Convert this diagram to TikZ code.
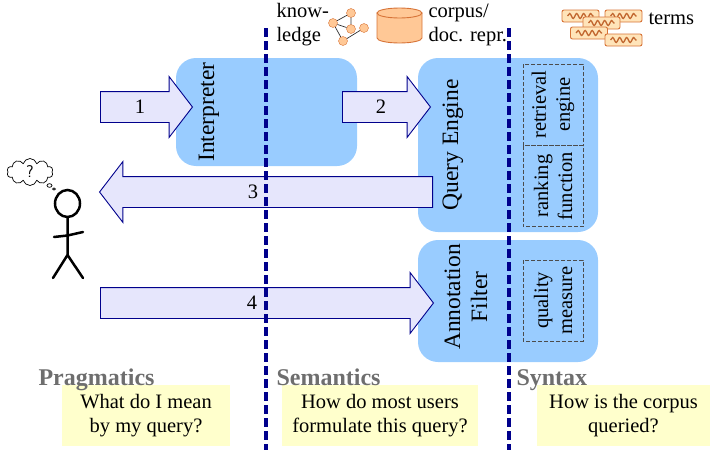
\documentclass[tikz,border=0pt]{standalone}
\usepackage{fontspec}
\setmainfont{Liberation Serif}
\usetikzlibrary{shapes.arrows,shapes.symbols,decorations.pathmorphing}
\usepackage{xcolor}
\definecolor{qnavy}{RGB}{0,0,140}
\definecolor{qblue}{RGB}{153,204,255}
\definecolor{qlav}{RGB}{230,230,252}
\definecolor{qgray}{RGB}{110,110,110}
\definecolor{qyellow}{RGB}{255,255,204}
\definecolor{qorange}{RGB}{215,115,55}
\definecolor{qpeach}{RGB}{255,200,150}
\definecolor{qcream}{RGB}{255,228,185}
\tikzset{
    stage/.style={
        fill=qblue,rounded corners=20pt,inner sep=0pt
    },
    stagelabel/.style={
        rotate=90,align=center,font=\fontsize{23.5}{27}\selectfont
    },
    part/.style={
        draw=black!70,dash pattern=on 4pt off 2pt,line width=.9pt,
        rotate=90,align=center,inner sep=0pt,
        minimum width=81pt,minimum height=60pt
    },
    flow/.style={
        single arrow,draw=qnavy,fill=qlav,line width=.9pt,
        single arrow tip angle=105,single arrow head extend=15pt,
        inner sep=0pt,text height=30pt,text depth=0pt,
        minimum width=60pt,minimum height=#1
    },
    question/.style={
        fill=qyellow,align=center,minimum height=61pt,inner sep=0pt
    },
    level/.style={
        anchor=base west,text=qgray,font=\bfseries\fontsize{24}{26}\selectfont
    },
    border/.style={
        qnavy,line width=3.5pt,dash pattern=on 9pt off 4pt
    },
    dot/.style={
        circle,draw=qorange,fill=qpeach,inner sep=0pt,minimum size=9pt
    },
    termcard/.style={
        draw=qorange,fill=qcream,rounded corners=2pt,line width=.9pt,
        minimum width=37pt,minimum height=12pt,inner sep=0pt
    },
    squiggle/.style={
        qorange!90!black,line width=1.3pt,
        decorate,decoration={snake,amplitude=2.5pt,segment length=7pt}
    }
}

\begin{document}
\begin{tikzpicture}[x=1pt,y=-1pt,font=\fontsize{20.5}{24}\selectfont]
\useasboundingbox (0,0) rectangle (716,450);

\node[question,minimum width=168pt] (qprag) at (146,415.5)
{What do I mean\\by my query?};
\node[question,minimum width=196pt] (qsem) at (380,415.5)
{How do most users\\formulate this query?};
\node[question,minimum width=173pt] (qsyn) at (623.5,415.5)
{How is the corpus\\queried?};

\node[level] (prag) at (35,385) {Pragmatics};
\node[level] (sem) at (273,385) {Semantics};
\node[level] (syn) at (513,385) {Syntax};

\node[stage,minimum width=181pt,minimum height=108pt] (interp) at (266.5,112) {};
\node[stage,minimum width=180pt,minimum height=174pt] (engine) at (508,145) {};
\node[stage,minimum width=180pt,minimum height=122pt] (filter) at (508,301) {};

\node[stagelabel] (interplab) at (209,112) {Interpreter};
\node[stagelabel] (enginelab) at (453,145) {Query Engine};
\node[stagelabel] (filterlab) at (466,297) {Annotation\\Filter};

\node[part] (retr) at (553,104.5) {retrieval\\engine};
\node[part] (rank) at (553,186) {ranking\\function};
\node[part] (qual) at (553,300.5) {quality\\measure};

\node[flow=92pt,anchor=tail] (a1) at (100,107) {};
\node[flow=88pt,anchor=tail] (a2) at (342,107) {};
\node[flow=333pt,anchor=tail,shape border rotate=180] (a3) at (433,192) {};
\node[flow=333pt,anchor=tail] (a4) at (100,303) {};

\node (n1) at (140,107) {1};
\node (n2) at (381,107) {2};
\node (n3) at (253,192) {3};
\node (n4) at (252,303) {4};

\draw[border] (266,28) -- (266,450);
\draw[border] (509,28) -- (509,450);

% user with a question
\node[cloud,cloud puffs=10,draw,line width=.7pt,minimum width=46pt,
minimum height=27pt,inner sep=0pt,font=\sffamily\fontsize{17}{17}\selectfont]
(think) at (30,172) {?};
\draw[line width=.7pt] (49.5,185.5) ellipse[x radius=2.5pt,y radius=1.8pt]
(54,189) ellipse[x radius=1.5pt,y radius=1.1pt];
\draw[line width=2.5pt] (67.5,203.5) ellipse[x radius=12.5pt,y radius=13.5pt];
\draw[line width=2.5pt,line cap=round]
(67.5,217) -- (67.5,255)
(54,237) -- (67.5,235.5) -- (83,232)
(53,278) -- (67.5,255) -- (83,278);

% knowledge graph
\node[dot] (k1) at (333,23) {};
\node[dot] (k2) at (351,13) {};
\node[dot] (k3) at (351,29) {};
\node[dot] (k4) at (364,28) {};
\node[dot] (k5) at (343,41) {};
\draw[black!80,line width=.7pt] (k1) -- (k2) (k1) -- (k3) (k2) -- (k3)
(k1) -- (k5) (k5) -- (k4);
\node[anchor=west,align=left] (know) at (273,25) {know-\\ledge};

% corpus
\draw[qorange,fill=qpeach,line width=.9pt]
(377,13) -- (377,38) arc[start angle=180,end angle=360,x radius=22.5pt,y radius=5pt]
-- (422,13) -- cycle;
\draw[qorange,fill=qpeach,line width=.9pt]
(399.5,13) ellipse[x radius=22.5pt,y radius=5pt];
\node[anchor=west,align=left] (corpus) at (425,25) {corpus/\\doc. repr.};

% terms
\foreach \x/\y in {580.5/16,623.5/16,601.5/23,589/33,623.5/40}{
\node[termcard] at (\x,\y) {};
\draw[squiggle] (\x-13,\y) -- (\x+13,\y);
}
\node[anchor=west] (terms) at (645,19) {terms};

\end{tikzpicture}
\end{document}
